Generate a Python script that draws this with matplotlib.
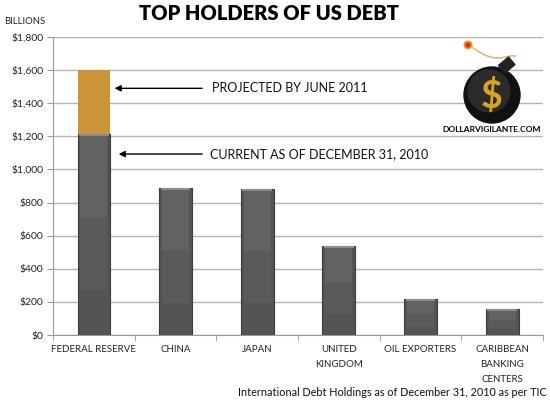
import matplotlib
matplotlib.use("Agg")
import matplotlib.pyplot as plt
import numpy as np
from matplotlib.patches import Circle, Rectangle

categories = ["FEDERAL RESERVE", "CHINA", "JAPAN", "UNITED\nKINGDOM", "OIL EXPORTERS", "CARIBBEAN\nBANKING\nCENTERS"]
current = [1215, 889, 880, 538, 216, 157]
projected_extra = [385, 0, 0, 0, 0, 0]
yticks = [0, 200, 400, 600, 800, 1000, 1200, 1400, 1600, 1800]
ytick_labels = ["$0", "$200", "$400", "$600", "$800", "$1,000", "$1,200", "$1,400", "$1,600", "$1,800"]

plt.rcParams['font.family'] = ['Lato', 'DejaVu Sans']

fig = plt.figure(figsize=(5.5, 4.05), dpi=100)
ax = fig.add_axes([53/550, 1-335/405, 490/550, 298/405])

x = np.arange(len(categories))
w = 0.40
gray = "#545454"
ax.bar(x, current, width=w, color=gray, edgecolor="#3c3c3c", linewidth=0.8, zorder=3)
# lighter inner band for shaded look
upper = [c * 0.42 for c in current]
ax.bar(x, upper, width=w * 0.82, bottom=[c * 0.58 - 10 for c in current], color="#626262", linewidth=0, zorder=4)
mid = [c * 0.36 for c in current]
ax.bar(x, mid, width=w * 0.82, bottom=[c * 0.22 for c in current], color="#5a5a5a", linewidth=0, zorder=4)
# top highlight cap
ax.bar(x, [12] * len(x), width=w * 0.9, bottom=[c - 12 for c in current], color="#8c8c8c", linewidth=0, zorder=5)
# projected segment
ax.bar(x, projected_extra, width=w, bottom=current, color="#CC9438", linewidth=0, zorder=3)

ax.set_xlim(-0.5, len(categories) - 0.5)
ax.set_ylim(0, 1800)
ax.set_yticks(yticks)
ax.set_yticklabels(ytick_labels, fontsize=7.5, color="#222222")
ax.yaxis.grid(True, color="#b4b4b4", linewidth=1.0, zorder=0)
ax.set_axisbelow(True)
ax.set_xticks(x)
ax.set_xticklabels(categories, fontsize=7, color="#222222", linespacing=1.9, va="top")
ax.set_xticks(np.arange(len(categories) + 1) - 0.5, minor=True)
ax.tick_params(axis="x", which="major", length=0, pad=7)
ax.tick_params(axis="x", which="minor", length=4, color="#999999", direction="out")
ax.tick_params(axis="y", length=4, color="#999999", pad=3)
for s in ["top", "right"]:
    ax.spines[s].set_visible(False)
ax.spines["left"].set_color("#999999")
ax.spines["bottom"].set_color("#999999")

# annotations
ax.annotate("", xy=(0.22, 1490), xytext=(1.36, 1490),
            arrowprops=dict(arrowstyle="-|>", color="black", lw=1.0, mutation_scale=9))
ax.text(1.45, 1490, "PROJECTED BY JUNE 2011", fontsize=9, va="center", ha="left", color="#111111")
ax.annotate("", xy=(0.27, 1093), xytext=(1.36, 1093),
            arrowprops=dict(arrowstyle="-|>", color="black", lw=1.0, mutation_scale=9))
ax.text(1.42, 1093, "CURRENT AS OF DECEMBER 31, 2010", fontsize=9, va="center", ha="left", color="#111111")

# titles
fig.text(269/550, 1-14/405, "TOP HOLDERS OF US DEBT", fontsize=14.5, fontweight="heavy", ha="center", va="center")
fig.text(4/550, 1-22/405, "BILLIONS", fontsize=6.8, ha="left", va="center", color="#222222")
fig.text(547/550, 1-392/405, "International Debt Holdings as of December 31, 2010 as per TIC",
         fontsize=7.8, ha="right", va="center", color="#111111")

# logo
lax = fig.add_axes([455/550, 1-125/405, 75/550, 85/405])
lax.set_xlim(0, 75)
lax.set_ylim(0, 85)
lax.set_aspect("equal")
lax.axis("off")
lax.add_patch(Circle((37, 30), 28, color="#111111", zorder=2))
lax.add_patch(Circle((34, 34), 21, color="#2b2b2b", zorder=3))
lax.add_patch(Rectangle((50, 52), 13, 10, angle=40, color="#222222", zorder=2))
t = np.linspace(0, 1, 60)
fx = 14 + 52 * t - 6 * t**3
fy = 80 - 16 * np.sin(np.pi * t * 0.9) + 8 * t - 14 * t**4
lax.plot(fx, fy, color="#d9b98a", lw=1.2, zorder=1)
lax.add_patch(Circle((13, 80), 3.8, color="#f2a020", zorder=4))
lax.add_patch(Circle((13, 80), 2.0, color="#e03010", zorder=5))
lax.text(37, 29, "$", fontsize=27, fontweight="bold", color="#d9a520", ha="center", va="center", zorder=6)
fig.text(492/550, 1-129/405, "DOLLARVIGILANTE.COM", fontsize=6, fontweight="bold", ha="center", va="center")

fig.savefig("out.png", dpi=100)
